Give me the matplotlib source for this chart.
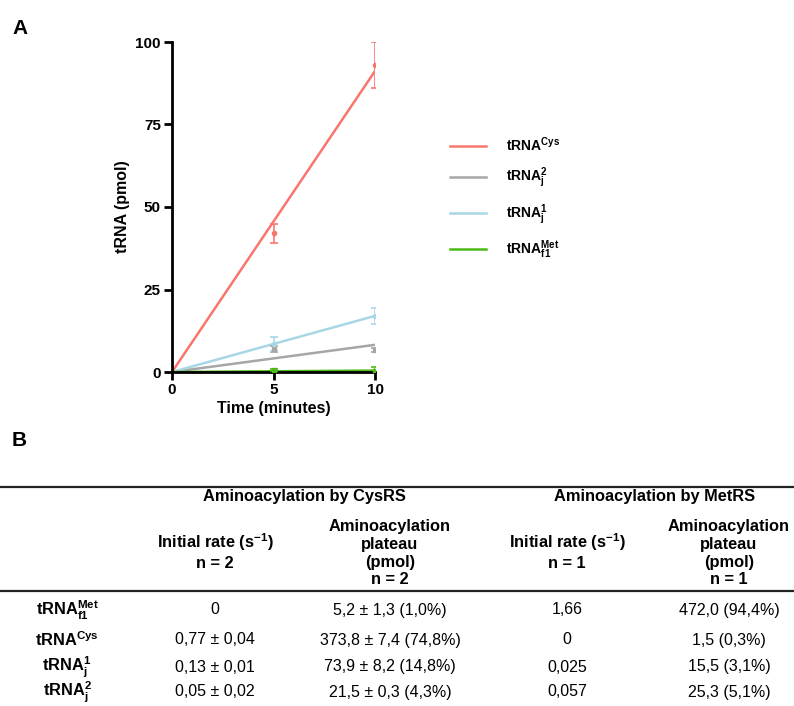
import matplotlib
matplotlib.use('Agg')
import matplotlib.pyplot as plt
from matplotlib.lines import Line2D
import numpy as np

plt.rcParams['font.family'] = ['Liberation Sans', 'DejaVu Sans']
plt.rcParams['mathtext.fontset'] = 'custom'
plt.rcParams['mathtext.rm'] = 'Liberation Sans:bold'
plt.rcParams['mathtext.bf'] = 'Liberation Sans:bold'
plt.rcParams['mathtext.it'] = 'Liberation Sans:bold'
plt.rcParams['mathtext.default'] = 'bf'

# Datos de la cinética (tiempo en minutos, tRNA en pmol)
tiempo = [0, 5, 10]
series = ['tRNA$^{Cys}$', 'tRNA$_j^2$', 'tRNA$_j^1$', 'tRNA$_{f1}^{Met}$']
valores = [[0, 42.0, 93.0],
           [0, 7.0, 6.8],
           [0, 8.5, 17.0],
           [0, 0.5, 0.3]]
errores = [[0, 3.0, 7.0],
           [0, 1.0, 0.6],
           [0, 2.0, 2.5],
           [0, 0.3, 1.2]]
colores = ['#f8766d', '#a6a6a6', '#a9d6e5', '#4cbb17']
marcadores = ['o', 's', 'o', 's']

# Datos de la tabla B
filas = ['tRNA$_{f1}^{Met}$', 'tRNA$^{Cys}$', 'tRNA$_j^1$', 'tRNA$_j^2$']
cys_rate = ['0', '0,77 ± 0,04', '0,13 ± 0,01', '0,05 ± 0,02']
cys_plateau = ['5,2 ± 1,3 (1,0%)', '373,8 ± 7,4 (74,8%)', '73,9 ± 8,2 (14,8%)', '21,5 ± 0,3 (4,3%)']
met_rate = ['1,66', '0', '0,025', '0,057']
met_plateau = ['472,0 (94,4%)', '1,5 (0,3%)', '15,5 (3,1%)', '25,3 (5,1%)']

W, H = 794, 706
fig = plt.figure(figsize=(W / 100, H / 100), dpi=100)
ax = fig.add_axes([172 / W, 1 - 372 / H, (375 - 172) / W, (372 - 42) / H])

t = np.array(tiempo, dtype=float)
for nombre, y, e, c, m in zip(series, valores, errores, colores, marcadores):
    y = np.array(y, dtype=float)
    # ajuste lineal que pasa por el origen
    pendiente = np.sum(t * y) / np.sum(t * t)
    ax.plot(t, pendiente * t, color=c, lw=1.8, label=nombre, zorder=2)
    ax.errorbar(t[1:], y[1:], yerr=e[1:], fmt=m, ms=3, color=c, ecolor=c,
                elinewidth=1.2, capsize=3, capthick=1.2, zorder=3)

ax.set_xlim(0, 10)
ax.set_ylim(0, 100)
ax.set_xticks([0, 5, 10])
ax.set_yticks([0, 25, 50, 75, 100])
for s in ['top', 'right']:
    ax.spines[s].set_visible(False)
for s in ['left', 'bottom']:
    ax.spines[s].set_linewidth(2)
ax.tick_params(direction='out', length=6, width=2, labelsize=11, pad=2)
for lab in ax.get_xticklabels() + ax.get_yticklabels():
    lab.set_fontweight('bold')
ax.set_xlabel('Time (minutes)', fontsize=11.5, fontweight='bold', labelpad=3)
ax.set_ylabel('tRNA (pmol)', fontsize=11.5, fontweight='bold', labelpad=4)

handles = [Line2D([], [], color=c, lw=1.8) for c in colores]
fig.legend(handles, series, loc='upper left', bbox_to_anchor=(437 / W, 1 - 123 / H),
           frameon=False, prop={'size': 10, 'weight': 'bold'}, handlelength=2.65,
           handletextpad=1.45, labelspacing=0.85)

fig.text(12 / W, 1 - 28 / H, 'A', fontsize=15, fontweight='bold', ha='left', va='center')
fig.text(12 / W, 1 - 440 / H, 'B', fontsize=15, fontweight='bold', ha='left', va='center')

# Tabla
def px(x, y):
    return x / W, 1 - y / H

for yl in [487, 591]:
    fig.add_artist(Line2D([0, 1], [1 - yl / H] * 2, color='#222222', lw=1.6))

fs_h = 11.8
fs_b = 11.5
fig.text(*px(304, 497), 'Aminoacylation by CysRS', fontsize=fs_h, fontweight='bold', ha='center', va='center')
fig.text(*px(655, 497), 'Aminoacylation by MetRS', fontsize=fs_h, fontweight='bold', ha='center', va='center')

cols_x = [215, 390, 567, 729]
encabezados = ['Initial rate (s$^{-1}$)\nn = 2', 'Aminoacylation\nplateau\n(pmol)\nn = 2',
               'Initial rate (s$^{-1}$)\nn = 1', 'Aminoacylation\nplateau\n(pmol)\nn = 1']
for x, txt in zip(cols_x, encabezados):
    n = txt.count('\n') + 1
    yc = 551 if n == 2 else 553
    fig.text(*px(x, yc), txt, fontsize=fs_h, fontweight='bold', ha='center', va='center',
             linespacing=1.25)

filas_y = [610, 640, 667, 692]
for i, yr in enumerate(filas_y):
    fig.text(*px(67, yr), filas[i], fontsize=fs_h, fontweight='bold', ha='center', va='center')
    for x, col in zip(cols_x, [cys_rate, cys_plateau, met_rate, met_plateau]):
        fig.text(*px(x, yr), col[i], fontsize=fs_b, ha='center', va='center')

fig.savefig('out.png', dpi=100)
